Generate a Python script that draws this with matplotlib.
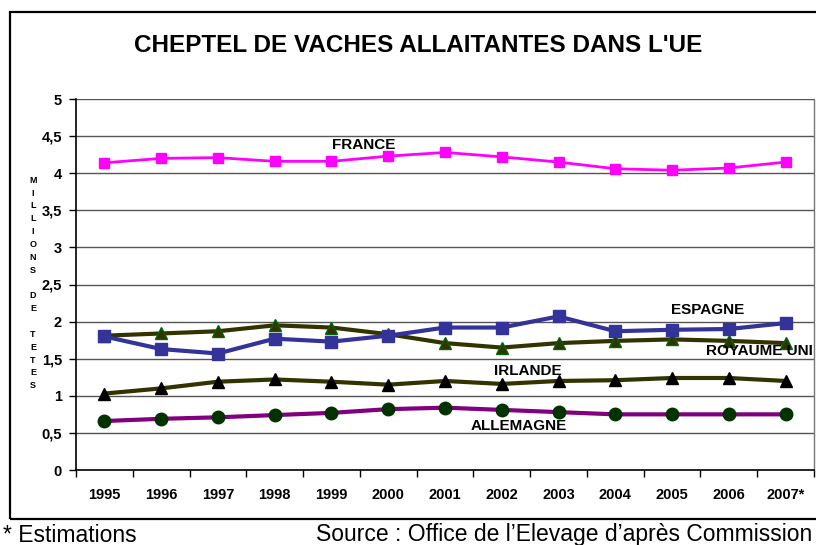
import matplotlib.pyplot as plt
import numpy as np
from matplotlib.patches import Rectangle

plt.rcParams['font.family'] = ['Liberation Sans', 'DejaVu Sans']

years = ['1995', '1996', '1997', '1998', '1999', '2000', '2001',
         '2002', '2003', '2004', '2005', '2006', '2007*']
france = [4.14, 4.20, 4.21, 4.16, 4.16, 4.23, 4.28, 4.22, 4.15, 4.06, 4.04, 4.07, 4.15]
espagne = [1.80, 1.63, 1.57, 1.77, 1.73, 1.81, 1.92, 1.92, 2.07, 1.87, 1.89, 1.90, 1.98]
royaume_uni = [1.81, 1.84, 1.87, 1.95, 1.92, 1.83, 1.71, 1.65, 1.71, 1.74, 1.76, 1.74, 1.71]
irlande = [1.03, 1.10, 1.19, 1.22, 1.19, 1.15, 1.20, 1.16, 1.20, 1.21, 1.24, 1.24, 1.20]
allemagne = [0.66, 0.69, 0.71, 0.74, 0.77, 0.82, 0.84, 0.81, 0.78, 0.75, 0.75, 0.75, 0.75]
yticks = [0, 0.5, 1, 1.5, 2, 2.5, 3, 3.5, 4, 4.5, 5]

x = np.arange(len(years))

fig = plt.figure(figsize=(8.16, 5.45), dpi=100)
ax = fig.add_axes([76 / 816, 75 / 545, 738 / 816, 371 / 545])

# horizontal grid
for v in yticks[1:]:
    ax.axhline(v, color='#555555', lw=1.0, zorder=1)

ax.plot(x, france, color='#ff00ff', lw=2, marker='s', ms=7, mfc='#ff00ff', mec='#ff00ff', zorder=5)
ax.plot(x, royaume_uni, color='#333300', lw=3, marker='^', ms=8, mfc='#333300', mec='#006600', zorder=4)
ax.plot(x, espagne, color='#333399', lw=3, marker='s', ms=8.5, mfc='#333399', mec='#333399', zorder=5)
ax.plot(x, irlande, color='#333300', lw=3, marker='^', ms=8, mfc='black', mec='black', zorder=4)
ax.plot(x, allemagne, color='#800080', lw=3, marker='o', ms=9, mfc='#003300', mec='#003300', zorder=4)

lab = dict(fontsize=11, fontweight='bold', va='center', zorder=6)
ax.text(4.56, 4.38, 'FRANCE', ha='center', **lab)
ax.text(10.63, 2.16, 'ESPAGNE', ha='center', **lab)
ax.text(10.60, 1.60, 'ROYAUME UNI', ha='left', clip_on=False, **lab)
ax.text(7.45, 1.33, 'IRLANDE', ha='center', **lab)
ax.text(7.30, 0.59, 'ALLEMAGNE', ha='center', **lab)

ax.set_xlim(-0.5, len(years) - 0.5)
ax.set_ylim(0, 5)
ax.set_yticks(yticks)
ax.set_yticklabels([('%g' % v).replace('.', ',') for v in yticks], fontsize=10.5, fontweight='bold')
ax.set_xticks(x)
ax.set_xticklabels(years, fontsize=10.5, fontweight='bold')
ax.set_xticks(np.arange(len(years) + 1) - 0.5, minor=True)
ax.tick_params(axis='x', which='major', length=0, pad=13)
ax.tick_params(axis='x', which='minor', length=5, width=1, direction='out')
ax.tick_params(axis='y', length=5, width=1, pad=5)

ax.spines['top'].set_visible(False)
ax.spines['right'].set_color('#777777')
ax.spines['right'].set_linewidth(1)
ax.spines['left'].set_linewidth(1.2)
ax.spines['bottom'].set_linewidth(1.2)

# vertical stacked axis title
fig.text(33 / 816, 1 - 283 / 545, '\n'.join(list('MILLIONS DE TETES')),
         fontsize=6.5, fontweight='bold', ha='center', va='center', linespacing=1.55)

fig.text(418 / 816, 1 - 46 / 545, "CHEPTEL DE VACHES ALLAITANTES DANS L'UE",
         fontsize=17.5, fontweight='bold', ha='center', va='center')

# outer frame
fig.patches.append(Rectangle((10 / 816, 26 / 545), 1.0, 507 / 545, transform=fig.transFigure,
                             fill=False, edgecolor='black', lw=1.6))

fig.text(3 / 816, 1 - 535 / 545, '* Estimations', fontsize=16.5, ha='left', va='center')
fig.text(316 / 816, 1 - 535 / 545, "Source : Office de l\u2019Elevage d\u2019apr\u00e8s Commission",
         fontsize=16.5, ha='left', va='center')

fig.savefig('out.png', dpi=100)
